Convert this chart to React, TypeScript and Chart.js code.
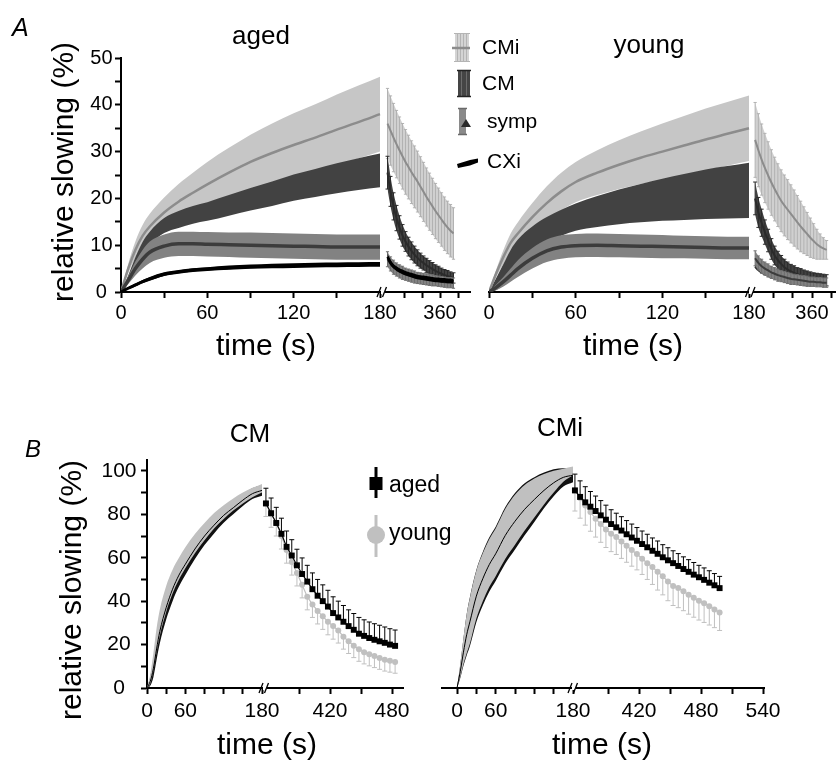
import React, { useEffect, useRef } from 'react';
import { Chart, registerables } from 'chart.js';

Chart.register(...registerables);

const FONT = '"Liberation Sans", Arial, Helvetica, sans-serif';
const PAGE_W = 836;
const PAGE_H = 765;
const Y_W = 60;
const X_H = 40;

// ---------------- time bases (s) ----------------
const PRE_T = [0, 5, 10, 15, 20, 30, 40, 50, 60, 75, 90, 105, 120, 135, 150, 165, 180];
const POST_T_A = [185, 195, 205, 215, 225, 235, 245, 255, 265, 275, 285, 295, 305, 315, 325, 335, 345, 355, 365, 375, 385, 395, 405];
const POST_T_BCM = [358, 363, 368, 373, 378, 383, 388, 393, 398, 403, 408, 413, 418, 423, 428, 433, 438, 443, 448, 453, 458, 463, 468, 473, 478, 483];
const POST_T_BCMI = [358, 363, 368, 373, 378, 383, 388, 393, 398, 403, 408, 413, 418, 423, 428, 433, 438, 443, 448, 453, 458, 463, 468, 473, 478, 483, 488, 493, 498];

// ---------------- A: aged, drug application ----------------
const AGED_CMI_MEAN = [0, 5, 9, 12, 14, 17, 19.3, 21.2, 23, 25.5, 27.8, 29.7, 31.4, 33, 34.7, 36.3, 38];
const AGED_CMI_SEM = [0, 1, 1.8, 2.3, 2.7, 3.2, 3.8, 4.3, 4.8, 5.3, 5.8, 6.3, 6.8, 7.1, 7.5, 7.8, 8];
const AGED_CM_MEAN = [0, 3, 6.5, 9.5, 11.5, 14.2, 15.5, 16.5, 17.2, 18.5, 19.8, 21, 22.3, 23.3, 24.3, 25.2, 26];
const AGED_CM_SEM = [0, 0.5, 0.9, 1.2, 1.4, 1.6, 1.8, 1.9, 2, 2.2, 2.4, 2.6, 2.8, 3, 3.2, 3.4, 3.6];
const AGED_SYMP_MEAN = [0, 2.5, 5, 7, 8.5, 9.8, 10.3, 10.3, 10.2, 10.1, 10, 9.9, 9.8, 9.7, 9.6, 9.6, 9.6];
const AGED_SYMP_SEM = [0, 0.8, 1.5, 2, 2.3, 2.5, 2.6, 2.6, 2.6, 2.6, 2.7, 2.7, 2.7, 2.7, 2.7, 2.7, 2.7];
const AGED_CXI_MEAN = [0, 0.8, 1.5, 2.2, 2.8, 3.8, 4.3, 4.7, 4.9, 5.2, 5.4, 5.55, 5.65, 5.75, 5.8, 5.85, 5.9];
const AGED_CXI_SEM = [0, 0.2, 0.3, 0.35, 0.4, 0.4, 0.4, 0.4, 0.4, 0.45, 0.45, 0.5, 0.5, 0.5, 0.5, 0.5, 0.5];

// ---------------- A: aged, washout ----------------
const AGED_CMI_POST = [36.0, 34.5, 33.0, 31.6, 30.3, 29.0, 27.8, 26.7, 25.6, 24.6, 23.6, 22.5, 21.4, 20.3, 19.3, 18.3, 17.3, 16.4, 15.5, 14.6, 13.8, 13.1, 12.5];
const AGED_CMI_POST_SEM = [7.5, 7.4, 7.3, 7.2, 7.1, 7.0, 6.9, 6.8, 6.7, 6.6, 6.5, 6.4, 6.3, 6.2, 6.1, 6.0, 5.9, 5.8, 5.7, 5.7, 5.6, 5.6, 5.5];
const AGED_CM_POST = [25.5, 21.5, 18.3, 15.8, 13.8, 12.1, 10.8, 9.7, 8.8, 8.0, 7.3, 6.7, 6.2, 5.7, 5.3, 4.9, 4.5, 4.2, 3.9, 3.6, 3.4, 3.2, 3.0];
const AGED_CM_POST_SEM = [3.5, 3.2, 2.9, 2.7, 2.5, 2.3, 2.1, 2.0, 1.9, 1.8, 1.7, 1.6, 1.5, 1.5, 1.4, 1.4, 1.3, 1.3, 1.2, 1.2, 1.2, 1.1, 1.1];
const AGED_SYMP_POST = [7.0, 6.0, 5.3, 4.8, 4.4, 4.1, 3.8, 3.6, 3.4, 3.2, 3.0, 2.9, 2.8, 2.7, 2.6, 2.5, 2.4, 2.3, 2.2, 2.1, 2.0, 2.0, 1.9];
const AGED_SYMP_POST_SEM = [1.6, 1.5, 1.5, 1.4, 1.4, 1.4, 1.3, 1.3, 1.3, 1.3, 1.2, 1.2, 1.2, 1.2, 1.2, 1.2, 1.1, 1.1, 1.1, 1.1, 1.1, 1.1, 1.1];
const AGED_CXI_POST = [7.5, 6.3, 5.5, 5.0, 4.6, 4.3, 4.0, 3.8, 3.6, 3.4, 3.2, 3.1, 3.0, 2.9, 2.8, 2.7, 2.6, 2.6, 2.5, 2.5, 2.4, 2.4, 2.3];
const AGED_CXI_POST_SEM = [0.6, 0.6, 0.5, 0.5, 0.5, 0.5, 0.5, 0.5, 0.5, 0.5, 0.5, 0.5, 0.5, 0.5, 0.5, 0.5, 0.5, 0.5, 0.5, 0.5, 0.5, 0.5, 0.5];

// ---------------- A: young, drug application ----------------
const YOUNG_CMI_MEAN = [0, 4, 7.5, 10.5, 12.5, 16, 19, 21.5, 23.5, 25.5, 27.2, 28.7, 30, 31.3, 32.6, 33.8, 35];
const YOUNG_CMI_SEM = [0, 0.8, 1.5, 2, 2.4, 3, 3.6, 4, 4.3, 4.8, 5.2, 5.6, 6, 6.3, 6.6, 6.8, 7];
const YOUNG_CM_MEAN = [0, 2, 4, 6.5, 8.5, 11.2, 13.2, 14.8, 16, 17.2, 18.2, 19, 19.7, 20.3, 20.9, 21.3, 21.7];
const YOUNG_CM_SEM = [0, 1, 2, 2.5, 2.7, 2.8, 2.8, 2.8, 2.9, 3.3, 3.7, 4.1, 4.5, 4.9, 5.3, 5.6, 5.9];
const YOUNG_SYMP_MEAN = [0, 1, 2.2, 3.6, 5, 7.2, 8.8, 9.6, 9.9, 10, 9.9, 9.8, 9.7, 9.6, 9.5, 9.4, 9.4];
const YOUNG_SYMP_SEM = [0, 0.6, 1, 1.4, 1.8, 2.2, 2.4, 2.5, 2.5, 2.5, 2.5, 2.5, 2.5, 2.4, 2.4, 2.4, 2.4];
const YOUNG_CXI_MEAN = [0, 0.8, 1.8, 3, 4.3, 6.5, 8, 8.8, 9.2, 9.3, 9.3, 9.3, 9.2, 9.2, 9.2, 9.2, 9.2];
const YOUNG_CXI_SEM = [0, 0.3, 0.4, 0.5, 0.5, 0.5, 0.5, 0.5, 0.5, 0.5, 0.5, 0.5, 0.5, 0.5, 0.5, 0.5, 0.5];

// ---------------- A: young, washout ----------------
const YOUNG_CMI_POST = [32.5, 30.3, 28.3, 26.5, 24.9, 23.4, 22.0, 20.7, 19.5, 18.5, 17.6, 16.7, 15.8, 14.9, 14.0, 13.2, 12.4, 11.6, 10.9, 10.2, 9.7, 9.3, 9.0];
const YOUNG_CMI_POST_SEM = [8, 7.8, 7.6, 7.4, 7.2, 7.0, 6.8, 6.7, 6.6, 6.5, 6.4, 6.2, 6.0, 5.7, 5.4, 5.0, 4.6, 4.2, 3.7, 3.2, 2.7, 2.3, 2.0];
const YOUNG_CM_POST = [20, 17, 14.8, 12.8, 11, 9.2, 7.8, 6.8, 6.0, 5.3, 4.8, 4.4, 4.1, 3.8, 3.6, 3.4, 3.2, 3.0, 2.9, 2.8, 2.7, 2.6, 2.5];
const YOUNG_CM_POST_SEM = [3.5, 3.2, 2.9, 2.6, 2.4, 2.2, 2.0, 1.9, 1.8, 1.7, 1.6, 1.5, 1.5, 1.4, 1.4, 1.3, 1.3, 1.3, 1.2, 1.2, 1.2, 1.2, 1.2];
const YOUNG_SYMP_POST = [7.2, 6.2, 5.5, 5.0, 4.6, 4.2, 3.9, 3.6, 3.4, 3.2, 3.0, 2.8, 2.7, 2.6, 2.5, 2.4, 2.3, 2.2, 2.2, 2.1, 2.1, 2.0, 2.0];
const YOUNG_SYMP_POST_SEM = [1.6, 1.5, 1.5, 1.4, 1.4, 1.3, 1.3, 1.3, 1.2, 1.2, 1.2, 1.2, 1.1, 1.1, 1.1, 1.1, 1.1, 1.0, 1.0, 1.0, 1.0, 1.0, 1.0];
const YOUNG_CXI_POST = [5.5, 4.9, 4.4, 4.0, 3.7, 3.4, 3.2, 3.0, 2.8, 2.7, 2.6, 2.5, 2.4, 2.3, 2.2, 2.1, 2.0, 2.0, 1.9, 1.9, 1.8, 1.8, 1.8];
const YOUNG_CXI_POST_SEM = [0.5, 0.5, 0.5, 0.5, 0.5, 0.5, 0.5, 0.5, 0.5, 0.5, 0.5, 0.5, 0.5, 0.5, 0.5, 0.5, 0.5, 0.5, 0.5, 0.5, 0.5, 0.5, 0.5];

// ---------------- B: CM (normalised) ----------------
const B_CM_YOUNG = [0, 4, 12, 22, 30, 41, 49, 55, 60, 66.5, 72, 77, 81, 84.5, 87.5, 90, 92];
const B_CM_YOUNG_SEM = [0, 2, 4, 5.5, 6, 6, 5.5, 5, 4.8, 4.4, 4, 3.6, 3.2, 2.8, 2.5, 2.2, 2];
const B_CM_AGED = [0, 3, 9, 18, 26, 37, 45.5, 52, 57, 64, 70, 75, 79.5, 83, 86.5, 89.5, 91];
const B_CM_AGED_SEM = [0, 2, 4, 5, 5.5, 5.5, 5.5, 5.3, 5, 4.6, 4.2, 3.8, 3.4, 3, 2.7, 2.5, 2.5];
const B_CM_AGED_POST = [85, 80.5, 76, 71, 65, 61, 56.5, 52.5, 49, 45.5, 42.5, 40, 37.5, 34.5, 32.5, 30.5, 28.5, 26.8, 25, 24, 23, 22.2, 21.5, 20.8, 20, 19.4];
const B_CM_AGED_POST_SEM = [7, 7, 7.2, 7.2, 7.3, 7.3, 7.4, 7.4, 7.5, 7.5, 7.5, 7.5, 7.5, 7.5, 7.5, 7.5, 7.5, 7.5, 7.5, 7.4, 7.4, 7.4, 7.4, 7.3, 7.3, 7.3];
const B_CM_YOUNG_POST = [85, 80, 76, 70, 63.5, 58, 53, 47.5, 42, 38.5, 35.5, 33, 30.5, 28.5, 26.5, 23.6, 21.5, 19.5, 17.8, 16.5, 15.5, 14.7, 13.8, 13, 12.5, 12];
const B_CM_YOUNG_POST_SEM = [6, 6, 6, 6, 6, 6, 6, 6, 6, 6, 6, 6, 6, 6, 5.8, 5.7, 5.6, 5.5, 5.5, 5.4, 5.3, 5.3, 5.2, 5.2, 5.2, 5.2];

// ---------------- B: CMi (normalised) ----------------
const B_CMI_YOUNG = [0, 8, 17, 25, 31, 43, 51, 57.5, 62.5, 71, 77.5, 83, 87.5, 91.5, 95, 98, 100];
const B_CMI_YOUNG_SEM = [0, 3, 6, 9, 10.5, 11, 11, 11, 11, 11.5, 11.5, 10.5, 9, 7, 5, 3, 2];
const B_CMI_AGED = [0, 7.5, 16.5, 24.5, 30.5, 42.3, 50.3, 56.8, 61.8, 70.3, 76.8, 82.3, 86.8, 91, 94.5, 97, 98];
const B_CMI_AGED_SEM = [0, 3, 6.3, 9.5, 11.3, 12, 12.3, 12.5, 12.5, 13, 13, 12, 10.3, 8.2, 6.2, 4.2, 3.2];
const B_CMI_AGED_POST = [91, 88, 85.5, 83.5, 81.5, 79.5, 77.5, 75.5, 74, 72.5, 70.8, 69.3, 67.8, 66.3, 64.8, 63.2, 61.8, 60.2, 58.8, 57.5, 56.2, 54.8, 53.5, 52.2, 51, 49.8, 48.5, 47.3, 46];
const B_CMI_AGED_POST_SEM = [7.5, 7.4, 7.2, 7, 6.9, 6.8, 6.7, 6.6, 6.5, 6.4, 6.3, 6.2, 6.1, 6, 6, 5.9, 5.9, 5.8, 5.8, 5.7, 5.7, 5.6, 5.6, 5.6, 5.5, 5.5, 5.5, 5.4, 5.4];
const B_CMI_YOUNG_POST = [91, 87.5, 84, 81, 78, 75.5, 73, 71, 69.5, 67.5, 65.5, 63.5, 61.7, 59.5, 57.5, 55.7, 53.5, 51.5, 49, 47, 46, 44.6, 43, 41.6, 40.2, 39, 37.6, 36.2, 34.8];
const B_CMI_YOUNG_POST_SEM = [9.5, 9.3, 9, 8.8, 8.5, 8.4, 8.3, 8.2, 8, 7.8, 7.6, 7.4, 7.3, 7.2, 7.5, 8, 8.4, 8.6, 8.8, 9, 9, 9, 9, 9, 8.9, 8.8, 8.6, 8.4, 8.3];

// ---------------- tick labels ----------------
const A_X_TICKS = [0, 30, 60, 90, 120, 150, 180, 240, 300, 360, 420];
const A_X_LABELS = ['0', '', '60', '', '120', '', '180', '', '', '360', ''];
const BCM_X_TICKS = [0, 30, 60, 90, 120, 150, 180, 390, 420, 450, 480];
const BCM_X_LABELS = ['0', '', '60', '', '', '', '180', '', '420', '', '480'];
const BCMI_X_TICKS = [0, 30, 60, 90, 120, 150, 180, 390, 420, 450, 480, 510, 540];
const BCMI_X_LABELS = ['0', '', '60', '', '', '', '180', '', '420', '', '480', '', '540'];
const A_Y_TICKS = [0, 5, 10, 15, 20, 25, 30, 35, 40, 45, 50];
const A_Y_LABELS = ['0', '', '10', '', '20', '', '30', '', '40', '', '50'];
const B_Y_TICKS = [0, 10, 20, 30, 40, 50, 60, 70, 80, 90, 100];
const B_Y_LABELS = ['0', '', '20', '', '40', '', '60', '', '80', '', '100'];

// ---------------- colours ----------------
const C_CMI = '#c6c6c6';
const C_CMI_POST = '#d0d0d0';
const C_CMI_LINE = '#8c8c8c';
const C_CM = '#424242';
const C_SYMP = '#828282';
const C_SYMP_LINE = '#3c3c3c';
const C_YOUNG_B = '#c0c0c0';

// ---------------- geometry (pixel layout of each panel) ----------------
type Geo = {
  left: number; right: number; top: number; bottom: number;
  px0: number; px180: number; anchorT: number; anchorPx: number; postPxPerSec: number;
  breakPx: number; yMax: number; showY: boolean;
};
const GEO_A_AGED: Geo = { left: 121, right: 470, top: 58, bottom: 292, px0: 121, px180: 380, anchorT: 360, anchorPx: 440, postPxPerSec: 0.3, breakPx: 383, yMax: 50, showY: true };
const GEO_A_YOUNG: Geo = { left: 489, right: 836, top: 58, bottom: 292, px0: 489, px180: 749, anchorT: 360, anchorPx: 812, postPxPerSec: 0.325, breakPx: 751.5, yMax: 50, showY: false };
const GEO_B_CM: Geo = { left: 147, right: 403, top: 460, bottom: 688, px0: 147, px180: 262, anchorT: 420, anchorPx: 330, postPxPerSec: 62 / 60, breakPx: 265, yMax: 105, showY: true };
const GEO_B_CMI: Geo = { left: 442, right: 764, top: 460, bottom: 688, px0: 457, px180: 573, anchorT: 420, anchorPx: 639, postPxPerSec: 62 / 60, breakPx: 574, yMax: 105, showY: false };

type Map = { toD: (t: number) => number; xMin: number; xMax: number; breakD: number };
function mapping(g: Geo): Map {
  const ppu = (g.px180 - g.px0) / 180;
  const postK = g.postPxPerSec / ppu;
  const anchorD = (g.anchorPx - g.px0) / ppu;
  return {
    toD: (t: number) => (t <= 180 ? t : anchorD + (t - g.anchorT) * postK),
    xMin: (g.left - g.px0) / ppu,
    xMax: (g.right - g.px0) / ppu,
    breakD: (g.breakPx - g.px0) / ppu,
  };
}

// ---------------- dataset helpers ----------------
type Bars = { color: string; width: number; cap: number; dir: 'up' | 'down' | 'both' };
function mkBars(times: number[], mean: number[], sem: number[], toD: (t: number) => number, b: Bars) {
  return {
    ...b,
    x: times.map(toD),
    lo: mean.map((m, i) => (b.dir === 'up' ? m : m - sem[i])),
    hi: mean.map((m, i) => (b.dir === 'down' ? m : m + sem[i])),
  };
}
function band(times: number[], mean: number[], sem: number[], color: string, order: number, toD: (t: number) => number, bars?: Bars) {
  const up: any = {
    data: times.map((t, i) => ({ x: toD(t), y: mean[i] + sem[i] })),
    borderWidth: 0, borderColor: color, pointRadius: 0, fill: false, order, cubicInterpolationMode: 'monotone',
  };
  const lo: any = {
    data: times.map((t, i) => ({ x: toD(t), y: mean[i] - sem[i] })),
    borderWidth: 0, borderColor: color, pointRadius: 0, backgroundColor: color, fill: '-1', order, cubicInterpolationMode: 'monotone',
  };
  if (bars) lo.errorBars = mkBars(times, mean, sem, toD, bars);
  return [up, lo];
}
function line(times: number[], mean: number[], color: string, width: number, order: number, toD: (t: number) => number) {
  return {
    data: times.map((t, i) => ({ x: toD(t), y: mean[i] })),
    borderColor: color, borderWidth: width, pointRadius: 0, fill: false, order, cubicInterpolationMode: 'monotone',
  } as any;
}
function markers(times: number[], mean: number[], sem: number[], color: string, style: string, radius: number, order: number, toD: (t: number) => number, bars: Bars) {
  return {
    data: times.map((t, i) => ({ x: toD(t), y: mean[i] })),
    borderColor: color, backgroundColor: color, borderWidth: 1.2, pointRadius: radius, pointStyle: style,
    pointBorderWidth: 0, pointBackgroundColor: color, showLine: true, fill: false, order,
    errorBars: mkBars(times, mean, sem, toD, bars),
  } as any;
}

// ---------------- plugins ----------------
const errorBarPlugin = {
  id: 'errorBars',
  afterDatasetDraw(chart: any, args: any) {
    const ds = chart.data.datasets[args.index];
    const eb = ds && ds.errorBars;
    if (!eb) return;
    const { ctx, chartArea } = chart;
    const xs = chart.scales.x;
    const ys = chart.scales.y;
    ctx.save();
    ctx.beginPath();
    ctx.rect(chartArea.left, chartArea.top - 2, chartArea.right - chartArea.left, chartArea.bottom - chartArea.top + 2);
    ctx.clip();
    ctx.strokeStyle = eb.color;
    ctx.lineWidth = eb.width;
    ctx.beginPath();
    for (let i = 0; i < eb.x.length; i++) {
      const x = xs.getPixelForValue(eb.x[i]);
      const y1 = ys.getPixelForValue(eb.lo[i]);
      const y2 = ys.getPixelForValue(eb.hi[i]);
      ctx.moveTo(x, y1);
      ctx.lineTo(x, y2);
      if (eb.dir !== 'down') { ctx.moveTo(x - eb.cap, y2); ctx.lineTo(x + eb.cap, y2); }
      if (eb.dir !== 'up') { ctx.moveTo(x - eb.cap, y1); ctx.lineTo(x + eb.cap, y1); }
    }
    ctx.stroke();
    ctx.restore();
  },
};

function txt(ctx: CanvasRenderingContext2D, s: string, x: number, y: number, size: number, align: CanvasTextAlign = 'left', italic = false) {
  ctx.save();
  ctx.font = `${italic ? 'italic ' : ''}${size}px ${FONT}`;
  ctx.fillStyle = '#000';
  ctx.textAlign = align;
  ctx.textBaseline = 'alphabetic';
  ctx.fillText(s, x, y);
  ctx.restore();
}
function vtxt(ctx: CanvasRenderingContext2D, s: string, cx: number, cy: number, size: number) {
  ctx.save();
  ctx.translate(cx, cy);
  ctx.rotate(-Math.PI / 2);
  ctx.font = `${size}px ${FONT}`;
  ctx.fillStyle = '#000';
  ctx.textAlign = 'center';
  ctx.textBaseline = 'middle';
  ctx.fillText(s, 0, 0);
  ctx.restore();
}
function drawBreak(ctx: CanvasRenderingContext2D, chart: any, m: Map) {
  const x = chart.scales.x.getPixelForValue(m.breakD);
  const y = chart.chartArea.bottom;
  ctx.save();
  ctx.clearRect(x - 2.5, y - 2, 4, 4);
  ctx.strokeStyle = '#000';
  ctx.lineWidth = 1.3;
  ctx.beginPath();
  ctx.moveTo(x - 6, y + 5); ctx.lineTo(x - 2, y - 5);
  ctx.moveTo(x - 0.5, y + 5); ctx.lineTo(x + 3.5, y - 5);
  ctx.stroke();
  ctx.restore();
}
function legendA(ctx: CanvasRenderingContext2D) {
  ctx.save();
  // CMi
  ctx.fillStyle = '#d4d4d4';
  ctx.fillRect(455, 33, 14, 29);
  ctx.strokeStyle = '#b4b4b4'; ctx.lineWidth = 1;
  ctx.beginPath();
  [457.5, 460.5, 463.5, 466.5].forEach((x) => { ctx.moveTo(x, 33); ctx.lineTo(x, 62); });
  ctx.moveTo(454, 33.5); ctx.lineTo(470, 33.5); ctx.moveTo(454, 61.5); ctx.lineTo(470, 61.5);
  ctx.stroke();
  ctx.strokeStyle = C_CMI_LINE; ctx.lineWidth = 2.5;
  ctx.beginPath(); ctx.moveTo(452, 48); ctx.lineTo(470, 48); ctx.stroke();
  // CM
  ctx.fillStyle = '#454545';
  ctx.fillRect(458, 70, 12, 27);
  ctx.strokeStyle = '#6c6c6c'; ctx.lineWidth = 1;
  ctx.beginPath(); ctx.moveTo(461.5, 71); ctx.lineTo(461.5, 96); ctx.moveTo(466.5, 71); ctx.lineTo(466.5, 96); ctx.stroke();
  ctx.strokeStyle = '#222'; ctx.lineWidth = 1.5;
  ctx.beginPath(); ctx.moveTo(457, 70.5); ctx.lineTo(471, 70.5); ctx.moveTo(457, 96.5); ctx.lineTo(471, 96.5); ctx.stroke();
  // symp
  ctx.fillStyle = '#8a8a8a';
  ctx.fillRect(459, 108, 7, 27);
  ctx.strokeStyle = '#6a6a6a'; ctx.lineWidth = 1.5;
  ctx.beginPath(); ctx.moveTo(458, 108.5); ctx.lineTo(467, 108.5); ctx.moveTo(458, 134.5); ctx.lineTo(467, 134.5); ctx.stroke();
  ctx.fillStyle = '#2a2a2a';
  ctx.beginPath(); ctx.moveTo(466, 119); ctx.lineTo(471, 127); ctx.lineTo(461, 127); ctx.closePath(); ctx.fill();
  // CXi
  ctx.fillStyle = '#000';
  ctx.beginPath();
  ctx.moveTo(457, 164); ctx.lineTo(470, 160); ctx.lineTo(478, 158.5); ctx.lineTo(478, 162.5);
  ctx.lineTo(470, 165.5); ctx.lineTo(458, 168); ctx.closePath(); ctx.fill();
  ctx.restore();
  txt(ctx, 'CMi', 482, 54, 21);
  txt(ctx, 'CM', 482, 90, 21);
  txt(ctx, 'symp', 487, 128, 21);
  txt(ctx, 'CXi', 487, 168, 21);
}
function legendB(ctx: CanvasRenderingContext2D) {
  ctx.save();
  ctx.strokeStyle = '#000'; ctx.lineWidth = 3;
  ctx.beginPath(); ctx.moveTo(376, 467); ctx.lineTo(376, 498); ctx.stroke();
  ctx.fillStyle = '#000';
  ctx.fillRect(369.5, 477, 13, 13);
  ctx.strokeStyle = C_YOUNG_B; ctx.lineWidth = 3;
  ctx.beginPath(); ctx.moveTo(376, 515); ctx.lineTo(376, 557); ctx.stroke();
  ctx.fillStyle = C_YOUNG_B;
  ctx.beginPath(); ctx.arc(376, 535, 9, 0, Math.PI * 2); ctx.fill();
  ctx.restore();
  txt(ctx, 'aged', 389, 492, 23);
  txt(ctx, 'young', 389, 540, 23);
}

// ---------------- panels ----------------
type Panel = {
  geo: Geo;
  build: (toD: (t: number) => number) => any[];
  xTicks: number[]; xLabels: string[];
  yTicks: number[]; yLabels: string[];
  tickFont: number; tickPadX: number; tickPadY: number;
  draw: (ctx: CanvasRenderingContext2D, chart: any, m: Map) => void;
};

function buildA(
  toD: (t: number) => number, cxOnTop: boolean,
  cmi: number[], cmiS: number[], cm: number[], cmS: number[], sy: number[], syS: number[], cx: number[], cxS: number[],
  cmiP: number[], cmiPS: number[], cmP: number[], cmPS: number[], syP: number[], syPS: number[], cxP: number[], cxPS: number[],
) {
  const cxBand = cxOnTop ? 60 : 76;
  const cxLine = cxOnTop ? 55 : 75;
  const cxColor = cxOnTop ? '#000' : '#333';
  return [
    ...band(PRE_T, cmi, cmiS, C_CMI, 100, toD),
    ...band(POST_T_A, cmiP, cmiPS, C_CMI_POST, 100, toD, { color: '#b2b2b2', width: 1, cap: 1.6, dir: 'both' }),
    ...band(PRE_T, cm, cmS, C_CM, 90, toD),
    ...band(POST_T_A, cmP, cmPS, C_CM, 90, toD, { color: '#2c2c2c', width: 1, cap: 2, dir: 'both' }),
    line(POST_T_A, cmP, '#2a2a2a', 2, 85, toD),
    line(PRE_T, cmi, C_CMI_LINE, 2.5, 80, toD),
    line(POST_T_A, cmiP, C_CMI_LINE, 2, 80, toD),
    ...band(PRE_T, sy, syS, C_SYMP, 70, toD),
    ...band(POST_T_A, syP, syPS, C_SYMP, 70, toD, { color: '#6e6e6e', width: 1, cap: 1.6, dir: 'both' }),
    line(PRE_T, sy, C_SYMP_LINE, 3.5, 65, toD),
    line(POST_T_A, syP, C_SYMP_LINE, 2, 65, toD),
    ...band(PRE_T, cx, cxS, cxColor, cxBand, toD),
    line(PRE_T, cx, cxColor, 3, cxLine, toD),
    ...band(POST_T_A, cxP, cxPS, cxColor, cxBand, toD),
    line(POST_T_A, cxP, cxColor, 2.5, cxLine, toD),
  ];
}

function buildB(
  toD: (t: number) => number, postT: number[],
  young: number[], youngS: number[], aged: number[], agedS: number[],
  agedP: number[], agedPS: number[], youngP: number[], youngPS: number[],
) {
  return [
    ...band(PRE_T, aged, agedS, '#111111', 100, toD),
    ...band(PRE_T, young, youngS, C_YOUNG_B, 90, toD),
    line(PRE_T, aged, '#000', 1, 80, toD),
    markers(postT, youngP, youngPS, C_YOUNG_B, 'circle', 3, 70, toD, { color: C_YOUNG_B, width: 1, cap: 2.5, dir: 'down' }),
    markers(postT, agedP, agedPS, '#000', 'rect', 4.2, 60, toD, { color: '#000', width: 1, cap: 2.5, dir: 'up' }),
  ];
}

const PANELS: Panel[] = [
  {
    geo: GEO_A_AGED,
    build: (toD) => buildA(toD, true,
      AGED_CMI_MEAN, AGED_CMI_SEM, AGED_CM_MEAN, AGED_CM_SEM, AGED_SYMP_MEAN, AGED_SYMP_SEM, AGED_CXI_MEAN, AGED_CXI_SEM,
      AGED_CMI_POST, AGED_CMI_POST_SEM, AGED_CM_POST, AGED_CM_POST_SEM, AGED_SYMP_POST, AGED_SYMP_POST_SEM, AGED_CXI_POST, AGED_CXI_POST_SEM),
    xTicks: A_X_TICKS, xLabels: A_X_LABELS, yTicks: A_Y_TICKS, yLabels: A_Y_LABELS,
    tickFont: 20, tickPadX: 3, tickPadY: 2.5,
    draw: (ctx, chart, m) => {
      drawBreak(ctx, chart, m);
      txt(ctx, 'A', 12, 36, 25, 'left', true);
      txt(ctx, 'aged', 261, 44, 26, 'center');
      vtxt(ctx, 'relative slowing (%)', 65, 172, 30);
      txt(ctx, 'time (s)', 266, 355, 30, 'center');
      legendA(ctx);
    },
  },
  {
    geo: GEO_A_YOUNG,
    build: (toD) => buildA(toD, false,
      YOUNG_CMI_MEAN, YOUNG_CMI_SEM, YOUNG_CM_MEAN, YOUNG_CM_SEM, YOUNG_SYMP_MEAN, YOUNG_SYMP_SEM, YOUNG_CXI_MEAN, YOUNG_CXI_SEM,
      YOUNG_CMI_POST, YOUNG_CMI_POST_SEM, YOUNG_CM_POST, YOUNG_CM_POST_SEM, YOUNG_SYMP_POST, YOUNG_SYMP_POST_SEM, YOUNG_CXI_POST, YOUNG_CXI_POST_SEM),
    xTicks: A_X_TICKS, xLabels: A_X_LABELS, yTicks: A_Y_TICKS, yLabels: A_Y_LABELS,
    tickFont: 20, tickPadX: 3, tickPadY: 2.5,
    draw: (ctx, chart, m) => {
      drawBreak(ctx, chart, m);
      txt(ctx, 'young', 649, 53, 26, 'center');
      txt(ctx, 'time (s)', 633, 355, 30, 'center');
    },
  },
  {
    geo: GEO_B_CM,
    build: (toD) => buildB(toD, POST_T_BCM, B_CM_YOUNG, B_CM_YOUNG_SEM, B_CM_AGED, B_CM_AGED_SEM,
      B_CM_AGED_POST, B_CM_AGED_POST_SEM, B_CM_YOUNG_POST, B_CM_YOUNG_POST_SEM),
    xTicks: BCM_X_TICKS, xLabels: BCM_X_LABELS, yTicks: B_Y_TICKS, yLabels: B_Y_LABELS,
    tickFont: 21, tickPadX: 5, tickPadY: 4.5,
    draw: (ctx, chart, m) => {
      drawBreak(ctx, chart, m);
      txt(ctx, 'B', 25, 457, 24, 'left', true);
      txt(ctx, 'CM', 250, 442, 26, 'center');
      vtxt(ctx, 'relative slowing (%)', 73, 590, 30);
      txt(ctx, 'time (s)', 267, 754, 30, 'center');
      legendB(ctx);
    },
  },
  {
    geo: GEO_B_CMI,
    build: (toD) => buildB(toD, POST_T_BCMI, B_CMI_YOUNG, B_CMI_YOUNG_SEM, B_CMI_AGED, B_CMI_AGED_SEM,
      B_CMI_AGED_POST, B_CMI_AGED_POST_SEM, B_CMI_YOUNG_POST, B_CMI_YOUNG_POST_SEM),
    xTicks: BCMI_X_TICKS, xLabels: BCMI_X_LABELS, yTicks: B_Y_TICKS, yLabels: B_Y_LABELS,
    tickFont: 21, tickPadX: 5, tickPadY: 4.5,
    draw: (ctx, chart, m) => {
      drawBreak(ctx, chart, m);
      txt(ctx, 'CMi', 560, 436, 26, 'center');
      txt(ctx, 'time (s)', 602, 754, 30, 'center');
    },
  },
];

function buildChart(canvas: HTMLCanvasElement, p: Panel) {
  const g = p.geo;
  const m = mapping(g);
  const datasets = p.build(m.toD);
  const yW = g.showY ? Y_W : 0;
  const axisCommon = {
    grid: { display: true, drawOnChartArea: false, drawTicks: true, tickLength: 6, tickWidth: 2, tickColor: '#000' },
    border: { display: true, color: '#000', width: 2 },
  };
  return new Chart(canvas, {
    type: 'line',
    data: { datasets },
    options: {
      animation: false,
      responsive: false,
      devicePixelRatio: 1,
      events: [],
      layout: {
        autoPadding: false,
        padding: {
          left: g.left - yW,
          right: PAGE_W - g.right,
          top: g.top,
          bottom: PAGE_H - g.bottom - X_H,
        },
      },
      plugins: { legend: { display: false }, tooltip: { enabled: false }, title: { display: false } },
      scales: {
        x: {
          type: 'linear', position: 'bottom', min: m.xMin, max: m.xMax,
          afterBuildTicks: (s: any) => { s.ticks = p.xTicks.map((t) => ({ value: m.toD(t) })); },
          afterFit: (s: any) => { s.height = X_H; },
          ticks: {
            autoSkip: false, maxRotation: 0, minRotation: 0, padding: p.tickPadX, color: '#000',
            font: { family: FONT, size: p.tickFont },
            callback: (_v: any, i: number) => p.xLabels[i] ?? '',
          },
          ...axisCommon,
        },
        y: {
          type: 'linear', position: 'left', min: 0, max: g.yMax, display: g.showY,
          afterBuildTicks: (s: any) => { s.ticks = p.yTicks.map((v) => ({ value: v })); },
          afterFit: (s: any) => { s.width = yW; },
          ticks: {
            autoSkip: false, crossAlign: 'center', padding: p.tickPadY, color: '#000',
            font: { family: FONT, size: p.tickFont },
            callback: (_v: any, i: number) => p.yLabels[i] ?? '',
          },
          ...axisCommon,
        },
      },
    } as any,
    plugins: [errorBarPlugin as any, { id: 'extras', afterDraw: (c: any) => p.draw(c.ctx, c, m) }],
  });
}

export default function App() {
  const refs = useRef<(HTMLCanvasElement | null)[]>([]);
  useEffect(() => {
    const charts = PANELS.map((p, i) => buildChart(refs.current[i] as HTMLCanvasElement, p));
    return () => charts.forEach((c) => c.destroy());
  }, []);
  return (
    <div style={{ position: 'absolute', left: 0, top: 0, width: PAGE_W, height: PAGE_H, background: '#fff', overflow: 'hidden' }}>
      {PANELS.map((_, i) => (
        <canvas
          key={i}
          ref={(el) => { refs.current[i] = el; }}
          width={PAGE_W}
          height={PAGE_H}
          style={{ position: 'absolute', left: 0, top: 0, width: PAGE_W, height: PAGE_H }}
        />
      ))}
    </div>
  );
}
